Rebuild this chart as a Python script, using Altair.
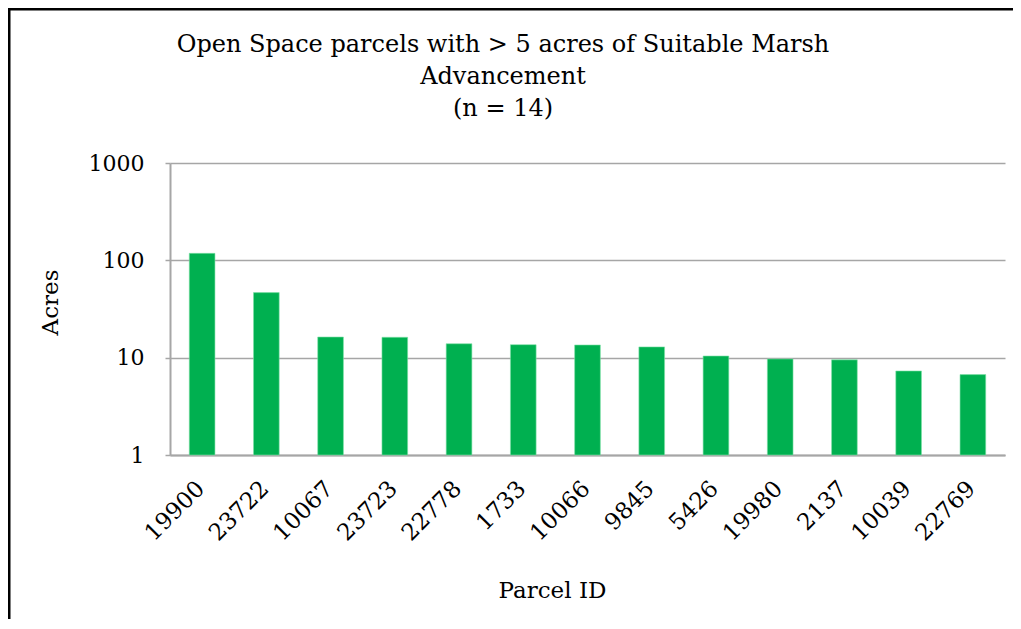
import altair as alt
import pandas as pd

parcel_ids = ["19900", "23722", "10067", "23723", "22778", "1733", "10066",
              "9845", "5426", "19980", "2137", "10039", "22769"]
acres = [118, 46.6, 16.3, 16.2, 13.9, 13.6, 13.5, 12.9, 10.4, 9.7, 9.5, 7.3, 6.7]
y_ticks = [1, 10, 100, 1000]
title_lines = ["Open Space parcels with > 5 acres of Suitable Marsh", "Advancement", "(n = 14)"]

df = pd.DataFrame({"Parcel ID": parcel_ids, "Acres": acres})

FONT = "DejaVu Serif"
GRAY = "#A6A6A6"

bars = alt.Chart(df).mark_bar(color="#00B050", stroke="#7FE0A8", strokeWidth=0.6).encode(
    x=alt.X("Parcel ID:N", sort=None,
            scale=alt.Scale(paddingInner=0.6, paddingOuter=0.3),
            axis=alt.Axis(title="Parcel ID", labelAngle=-45, labelFontSize=23,
                          labelFont=FONT, labelColor="black", labelPadding=22,
                          labelOffset=-9,
                          ticks=False, domainColor=GRAY, domainWidth=2,
                          titleFont=FONT, titleFontSize=23, titleFontWeight="normal",
                          titleColor="black", titleX=382, titleY=135,
                          titleBaseline="middle", titleAlign="center")),
    y=alt.Y("Acres:Q",
            scale=alt.Scale(type="log", domain=[1, 1000], nice=False),
            axis=alt.Axis(title="Acres", values=y_ticks, format="d",
                          labelFontSize=22, labelFont=FONT, labelColor="black",
                          labelPadding=21, tickSize=5, tickColor=GRAY, tickWidth=1.5,
                          domainColor=GRAY, domainWidth=2,
                          gridColor=GRAY, gridWidth=1.5,
                          titleFont=FONT, titleFontSize=23, titleFontWeight="normal",
                          titleColor="black", titleX=-120, titleY=139,
                          titleAngle=-90, titleBaseline="middle", titleAlign="center")),
    y2=alt.datum(1),
)

one_row = pd.DataFrame({"k": [0]})

frame = alt.Chart(one_row).mark_rect(fill="transparent", stroke="black", strokeWidth=3,
                                     clip=False).encode(
    x=alt.value(-161), x2=alt.value(1000), y=alt.value(-154), y2=alt.value(800)
)

title_y = [-118, -86, -54]
title_layers = [
    alt.Chart(one_row).mark_text(font=FONT, fontSize=24, color="black", align="center",
                                 baseline="middle", fontWeight="normal", clip=False).encode(
        x=alt.value(333), y=alt.value(ty), text=alt.value(line))
    for line, ty in zip(title_lines, title_y)
]

chart = alt.layer(bars, frame, *title_layers).properties(
    width=835, height=292,
    autosize=alt.AutoSizeParams(type="none"),
    padding={"left": 162, "top": 155, "right": 8, "bottom": 164},
).configure_view(stroke="transparent")

chart.save("out.html", embed_options={"renderer": "svg", "actions": False})
